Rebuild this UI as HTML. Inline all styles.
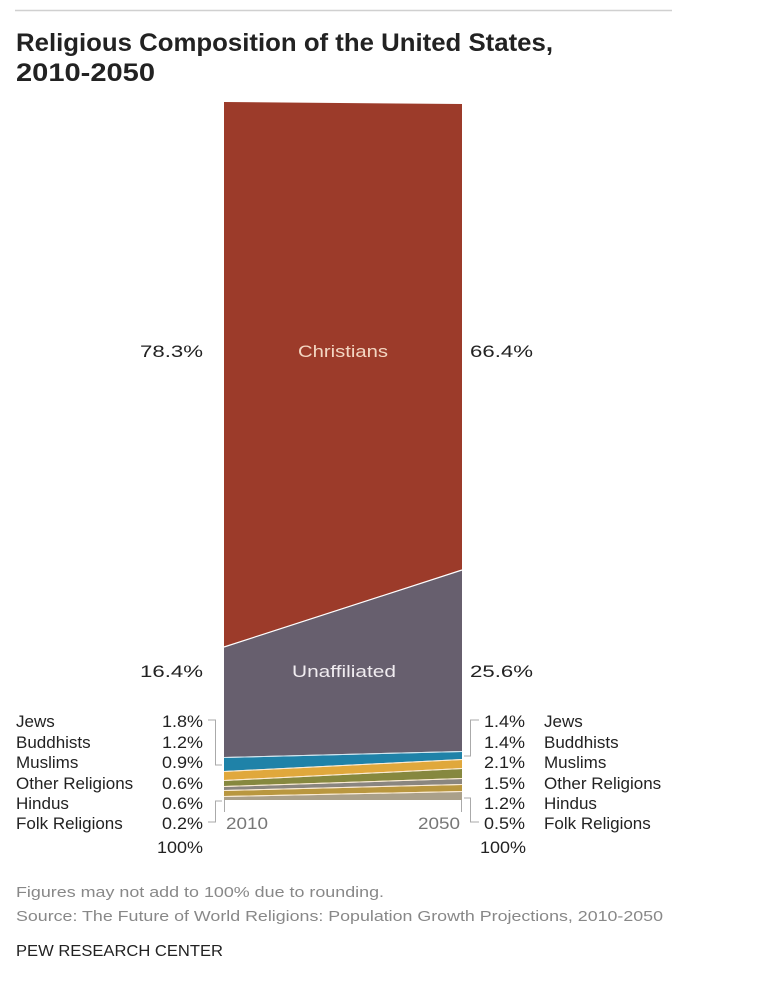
<!DOCTYPE html>
<html><head><meta charset="utf-8"><style>
html,body{margin:0;padding:0;background:#fff}
svg{display:block}
text{font-family:"Liberation Sans Narrow","Liberation Sans",sans-serif}
</style></head><body>
<svg width="760" height="993" viewBox="0 0 760 993" xmlns="http://www.w3.org/2000/svg">
<rect width="760" height="993" fill="#fff"/>
<line x1="15" y1="10.5" x2="672" y2="10.5" stroke="#d0d0d0" stroke-width="1.5"/>
<g font-weight="bold" font-size="25" fill="#222">
<text x="16" y="51" textLength="537" lengthAdjust="spacingAndGlyphs">Religious Composition of the United States,</text>
<text x="16" y="81" textLength="139" lengthAdjust="spacingAndGlyphs">2010-2050</text>
</g>
<polygon points="224,102 462,104 462,570 224,647" fill="#9c3b2a"/>
<polygon points="224,647 462,570 462,751 224,757" fill="#675f6e"/>
<polyline points="224,647 462,570" stroke="#fff" stroke-width="1.2" fill="none"/>
<polygon points="224,758 462,752 462,759 224,771" fill="#1f82a8"/>
<polygon points="224,772 462,760 462,768 224,780" fill="#e0a83c"/>
<polygon points="224,781 462,769 462,778 224,786" fill="#86883f"/>
<polygon points="224,787 462,779 462,784 224,790" fill="#8a8680"/>
<polygon points="224,791 462,785 462,791 224,796" fill="#b9973f"/>
<polygon points="224,797 462,792 462,800 224,800" fill="#aaa08a"/>
<g stroke="#fbe9cf" stroke-width="1" fill="none">
<line x1="224" y1="757.5" x2="462" y2="751.5" stroke="#cfe6f0"/>
<line x1="224" y1="771.5" x2="462" y2="759.5"/>
<line x1="224" y1="780.5" x2="462" y2="768.5"/>
<line x1="224" y1="786.5" x2="462" y2="778.5"/>
<line x1="224" y1="790.5" x2="462" y2="784.5"/>
<line x1="224" y1="796.5" x2="462" y2="791.5"/>
</g>
<g stroke="#aaa" stroke-width="1" fill="none">
<line x1="224.5" y1="800" x2="224.5" y2="812"/>
<line x1="461.5" y1="800" x2="461.5" y2="812"/>
<polyline points="208,720 215.5,720 215.5,765 222,765"/>
<polyline points="208,822 215.5,822 215.5,801 222,801"/>
<polyline points="479,720 470.5,720 470.5,756 464,756"/>
<polyline points="479,822 470.5,822 470.5,798 464,798"/>
</g>
<g font-size="17" fill="#222" lengthAdjust="spacingAndGlyphs">
<text x="140" y="357" textLength="63" lengthAdjust="spacingAndGlyphs">78.3%</text>
<text x="470" y="357" textLength="63" lengthAdjust="spacingAndGlyphs">66.4%</text>
<text x="298" y="357" fill="#f3d6c2" textLength="90" lengthAdjust="spacingAndGlyphs">Christians</text>
<text x="140" y="677" textLength="63" lengthAdjust="spacingAndGlyphs">16.4%</text>
<text x="470" y="677" textLength="63" lengthAdjust="spacingAndGlyphs">25.6%</text>
<text x="292" y="677" fill="#f0ecf0" textLength="104" lengthAdjust="spacingAndGlyphs">Unaffiliated</text>
</g>
<g font-size="17" fill="#222">
<text x="16" y="727">Jews</text>
<text x="16" y="748">Buddhists</text>
<text x="16" y="768">Muslims</text>
<text x="16" y="789">Other Religions</text>
<text x="16" y="809">Hindus</text>
<text x="16" y="829">Folk Religions</text>
<g text-anchor="start">
<text x="162" y="727" textLength="41" lengthAdjust="spacingAndGlyphs">1.8%</text>
<text x="162" y="748" textLength="41" lengthAdjust="spacingAndGlyphs">1.2%</text>
<text x="162" y="768" textLength="41" lengthAdjust="spacingAndGlyphs">0.9%</text>
<text x="162" y="789" textLength="41" lengthAdjust="spacingAndGlyphs">0.6%</text>
<text x="162" y="809" textLength="41" lengthAdjust="spacingAndGlyphs">0.6%</text>
<text x="162" y="829" textLength="41" lengthAdjust="spacingAndGlyphs">0.2%</text>
<text x="157" y="853" textLength="46" lengthAdjust="spacingAndGlyphs">100%</text>
<text x="484" y="727" textLength="41" lengthAdjust="spacingAndGlyphs">1.4%</text>
<text x="484" y="748" textLength="41" lengthAdjust="spacingAndGlyphs">1.4%</text>
<text x="484" y="768" textLength="41" lengthAdjust="spacingAndGlyphs">2.1%</text>
<text x="484" y="789" textLength="41" lengthAdjust="spacingAndGlyphs">1.5%</text>
<text x="484" y="809" textLength="41" lengthAdjust="spacingAndGlyphs">1.2%</text>
<text x="484" y="829" textLength="41" lengthAdjust="spacingAndGlyphs">0.5%</text>
<text x="480" y="853" textLength="46" lengthAdjust="spacingAndGlyphs">100%</text>
</g>
<text x="544" y="727">Jews</text>
<text x="544" y="748">Buddhists</text>
<text x="544" y="768">Muslims</text>
<text x="544" y="789">Other Religions</text>
<text x="544" y="809">Hindus</text>
<text x="544" y="829">Folk Religions</text>
<text x="226" y="829" fill="#777" textLength="42" lengthAdjust="spacingAndGlyphs">2010</text>
<text x="418" y="829" fill="#777" textLength="42" lengthAdjust="spacingAndGlyphs">2050</text>
</g>
<g font-size="15" fill="#888">
<text x="16" y="897" textLength="368" lengthAdjust="spacingAndGlyphs">Figures may not add to 100% due to rounding.</text>
<text x="16" y="921" textLength="647" lengthAdjust="spacingAndGlyphs">Source: The Future of World Religions: Population Growth Projections, 2010-2050</text>
</g>
<text x="16" y="956" font-size="16" fill="#222" textLength="207" lengthAdjust="spacingAndGlyphs">PEW RESEARCH CENTER</text>
</svg>
</body></html>
